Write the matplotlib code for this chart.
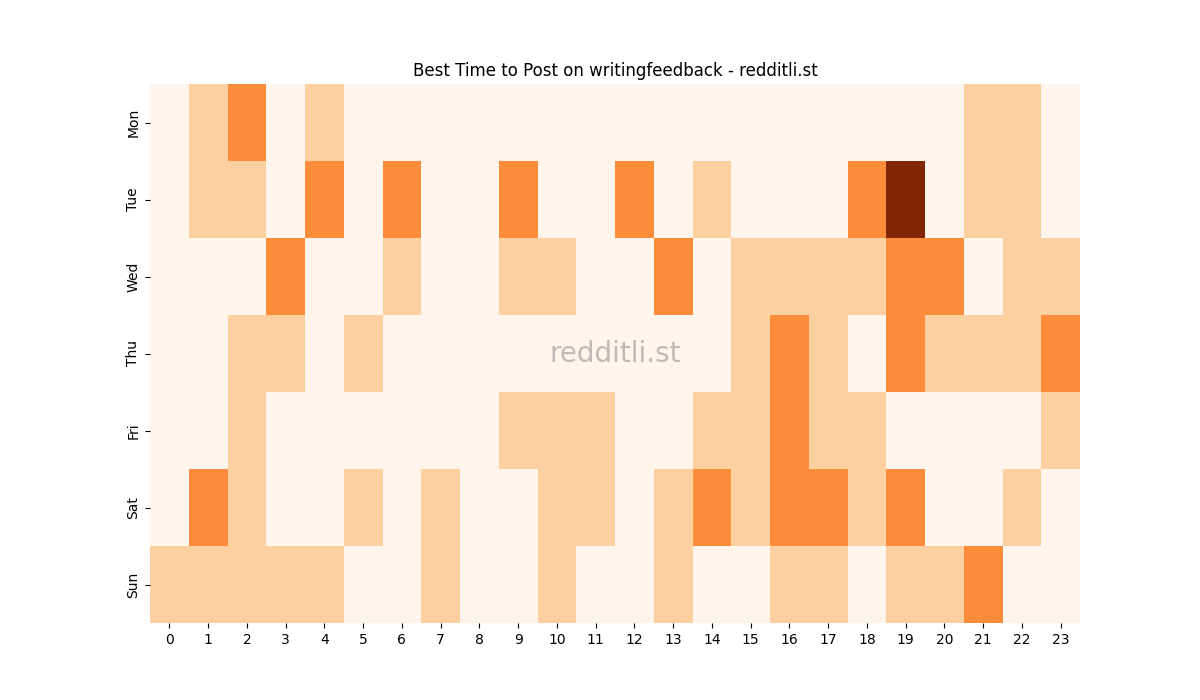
import matplotlib
matplotlib.use("Agg")
import matplotlib.pyplot as plt
import seaborn as sns
import numpy as np

days = ["Mon", "Tue", "Wed", "Thu", "Fri", "Sat", "Sun"]
hours = list(range(24))

mon = [0, 1, 2, 0, 1, 0, 0, 0, 0, 0, 0, 0, 0, 0, 0, 0, 0, 0, 0, 0, 0, 1, 1, 0]
tue = [0, 1, 1, 0, 2, 0, 2, 0, 0, 2, 0, 0, 2, 0, 1, 0, 0, 0, 2, 4, 0, 1, 1, 0]
wed = [0, 0, 0, 2, 0, 0, 1, 0, 0, 1, 1, 0, 0, 2, 0, 1, 1, 1, 1, 2, 2, 0, 1, 1]
thu = [0, 0, 1, 1, 0, 1, 0, 0, 0, 0, 0, 0, 0, 0, 0, 1, 2, 1, 0, 2, 1, 1, 1, 2]
fri = [0, 0, 1, 0, 0, 0, 0, 0, 0, 1, 1, 1, 0, 0, 1, 1, 2, 1, 1, 0, 0, 0, 0, 1]
sat = [0, 2, 1, 0, 0, 1, 0, 1, 0, 0, 1, 1, 0, 1, 2, 1, 2, 2, 1, 2, 0, 0, 1, 0]
sun = [1, 1, 1, 1, 1, 0, 0, 1, 0, 0, 1, 0, 0, 1, 0, 0, 1, 1, 0, 1, 1, 2, 0, 0]

data = np.array([mon, tue, wed, thu, fri, sat, sun])

fig, ax = plt.subplots(figsize=(12, 7), dpi=100)
sns.heatmap(data, cmap="Oranges", cbar=False, ax=ax,
            xticklabels=hours, yticklabels=days)
ax.set_title("Best Time to Post on writingfeedback - redditli.st")
ax.text(0.5, 0.5, "redditli.st", transform=ax.transAxes, fontsize=20,
        color="gray", alpha=0.5, ha="center", va="center")

fig.savefig("out.png", dpi=100)
